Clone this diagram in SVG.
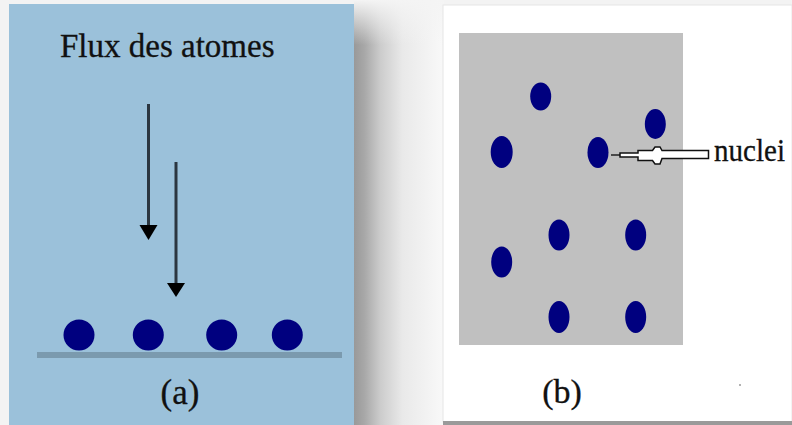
<svg xmlns="http://www.w3.org/2000/svg" width="792" height="425" viewBox="0 0 792 425">
  <defs>
    <style>
      .lbl { fill: #111; font-family: 'Liberation Serif', 'Times New Roman', 'DejaVu Serif', serif; stroke: #111; stroke-width: 0.3; }
      .dot { fill: #00007f; }
      .shaft { stroke: #2b3640; stroke-width: 3; }
      .head { fill: #000; }
    </style>
    <linearGradient id="shadow" x1="354" y1="0" x2="442" y2="0" gradientUnits="userSpaceOnUse">
      <stop offset="0" stop-color="#999999"/>
      <stop offset="0.12" stop-color="#a8a8a8"/>
      <stop offset="0.3" stop-color="#cccccc"/>
      <stop offset="0.55" stop-color="#e9e9e9"/>
      <stop offset="1" stop-color="#f8f8f8"/>
    </linearGradient>
    <linearGradient id="topfade" x1="0" y1="0" x2="0" y2="45" gradientUnits="userSpaceOnUse">
      <stop offset="0" stop-color="#f4f4f4" stop-opacity="1"/>
      <stop offset="1" stop-color="#f4f4f4" stop-opacity="0"/>
    </linearGradient>
  </defs>

  <!-- background -->
  <rect x="0" y="0" width="792" height="425" fill="#f3f3f3"/>
  <rect x="354" y="0" width="90" height="425" fill="url(#shadow)"/>
  <rect x="354" y="0" width="90" height="45" fill="url(#topfade)"/>

  <!-- panel (a) -->
  <g id="panel-a">
    <rect x="9" y="4" width="345" height="421" fill="#9bc1da"/>
    <text class="lbl" x="60" y="57" font-size="33">Flux des atomes</text>
    <line x1="37" y1="355" x2="342" y2="355" stroke="#7b9aae" stroke-width="6"/>
    <g id="atoms-a">
      <circle class="dot" cx="79" cy="335" r="15.5"/>
      <circle class="dot" cx="148.3" cy="335" r="15.5"/>
      <circle class="dot" cx="221.7" cy="335" r="15.5"/>
      <circle class="dot" cx="287.3" cy="335" r="15.5"/>
    </g>
    <text class="lbl" x="180" y="404" font-size="35" text-anchor="middle">(a)</text>
  </g>

  <!-- panel (b) -->
  <g id="panel-b">
    <rect x="443" y="5" width="349" height="417" fill="#ffffff" stroke="#e6e6e6" stroke-width="1"/>
    <rect x="443" y="421" width="349" height="4" fill="#9a9a9a"/>
    <rect x="459" y="33" width="224" height="312" fill="#c0c0c0"/>
    <g id="nuclei-dots">
      <ellipse class="dot" cx="540.7" cy="96.5" rx="10.5" ry="14"/>
      <ellipse class="dot" cx="655.3" cy="124" rx="10.5" ry="15"/>
      <ellipse class="dot" cx="501.7" cy="152" rx="11" ry="16"/>
      <ellipse class="dot" cx="598" cy="152.5" rx="10.5" ry="15.5"/>
      <ellipse class="dot" cx="559" cy="235" rx="10.5" ry="15.5"/>
      <ellipse class="dot" cx="635.7" cy="235" rx="10.5" ry="15.5"/>
      <ellipse class="dot" cx="501.7" cy="262" rx="10.5" ry="15.5"/>
      <ellipse class="dot" cx="559" cy="317" rx="10.5" ry="16"/>
      <ellipse class="dot" cx="635.7" cy="317" rx="10.5" ry="16"/>
    </g>
    <text class="lbl" x="714" y="161" font-size="31" textLength="71" lengthAdjust="spacingAndGlyphs">nuclei</text>
    <text class="lbl" x="562" y="403" font-size="34" text-anchor="middle">(b)</text>
    <circle cx="740" cy="385" r="1" fill="#999"/>
  </g>

  <!-- connectors: flux arrows and nuclei callout -->
  <g id="connectors">
    <line class="shaft" x1="148.5" y1="104" x2="148.5" y2="228"/>
    <path class="head" d="M139.5,225 L157.5,225 L148.5,240 Z"/>
    <line class="shaft" x1="176" y1="162" x2="176" y2="285"/>
    <path class="head" d="M167,283 L185,283 L176,297 Z"/>
    <line x1="611" y1="155" x2="620" y2="155" stroke="#222" stroke-width="1.5"/>
    <path d="M620,153 L638,153 L638,150.5 L652.5,150.5 L655,147 L660,147 L662,150.5 L708.5,150.5 L708.5,158.5 L662,158.5 L660,164 L655,164 L652.5,160.5 L638,160.5 L638,157 L620,157 Z" fill="#ffffff" stroke="#111" stroke-width="1.5"/>
  </g>
</svg>
